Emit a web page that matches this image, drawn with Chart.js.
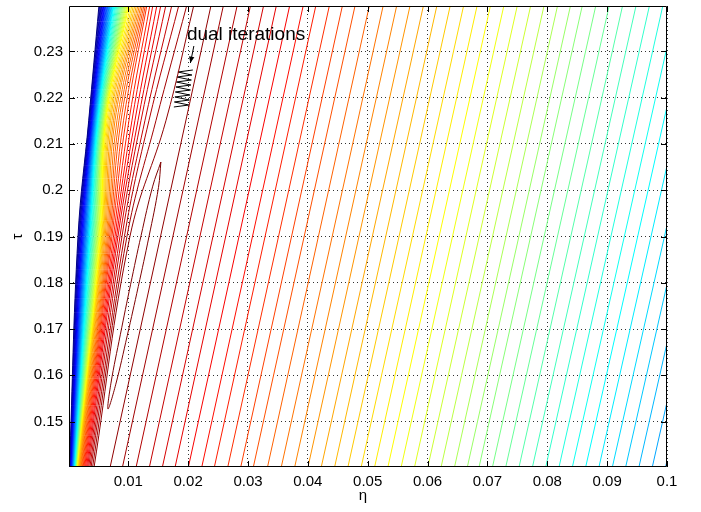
<!DOCTYPE html>
<html>
<head>
<meta charset="utf-8">
<script src="https://cdn.jsdelivr.net/npm/chart.js@4.4.1/dist/chart.umd.min.js"></script>
<style>
  html, body { margin: 0; padding: 0; background: #fff; }
</style>
</head>
<body>
<canvas id="contourChart" width="701" height="512"></canvas>
<script>
// tick labels
const xTicks = [0.01, 0.02, 0.03, 0.04, 0.05, 0.06, 0.07, 0.08, 0.09, 0.1]
const yTicks = [0.15, 0.16, 0.17, 0.18, 0.19, 0.2, 0.21, 0.22, 0.23]

// number of contour levels (0 = closed loop around the maximum)
const nLevels = 60

// right-hand branches (levels 1..43): eta at tau = 0.14 and at tau = 0.24
const rightTau = [0.14, 0.24]
const rightBottomEta = [0.00694, 0.00900, 0.01128, 0.01350, 0.01567, 0.01779, 0.02001, 0.02225, 0.02435, 0.02659, 0.02876, 0.03086, 0.03323, 0.03553, 0.03777, 0.03999, 0.04221, 0.04444, 0.04666, 0.04888, 0.05112, 0.05334, 0.05556, 0.05779, 0.06001, 0.06223, 0.06447, 0.06661, 0.06857, 0.07081, 0.07303, 0.07525, 0.07749, 0.07971, 0.08193, 0.08416, 0.08638, 0.08860, 0.09084, 0.09306, 0.09528, 0.09751, 0.09973]
const rightTopEta = [0.02384, 0.02591, 0.02821, 0.03044, 0.03263, 0.03476, 0.03699, 0.03925, 0.04136, 0.04362, 0.04580, 0.04791, 0.05030, 0.05261, 0.05487, 0.05710, 0.05933, 0.06158, 0.06381, 0.06605, 0.06830, 0.07053, 0.07277, 0.07501, 0.07725, 0.07948, 0.08174, 0.08390, 0.08587, 0.08813, 0.09037, 0.09260, 0.09485, 0.09709, 0.09933, 0.10158, 0.10382, 0.10606, 0.10831, 0.11055, 0.11279, 0.11504, 0.11728]

// left-hand branches forming the steep wall (levels 1..59), eta at four tau rows
const wallTau = [0.24, 0.215, 0.19, 0.14]
const wallRowA = [0.02096, 0.01979, 0.01846, 0.01729, 0.01629, 0.01545, 0.01479, 0.01412, 0.01362, 0.01312, 0.01287, 0.01262, 0.01237, 0.01212, 0.01187, 0.01162, 0.01137, 0.01111, 0.01086, 0.01061, 0.01036, 0.01011, 0.00995, 0.00978, 0.00961, 0.00945, 0.00928, 0.00911, 0.00895, 0.00878, 0.00861, 0.00844, 0.00828, 0.00811, 0.00794, 0.00778, 0.00761, 0.00749, 0.00738, 0.00728, 0.00716, 0.00704, 0.00693, 0.00681, 0.00671, 0.00659, 0.00648, 0.00636, 0.00624, 0.00612, 0.00602, 0.00591, 0.00579, 0.00567, 0.00556, 0.00546, 0.00534, 0.00522, 0.00511]
const wallRowB = [0.01629, 0.01462, 0.01345, 0.01278, 0.01212, 0.01162, 0.01111, 0.01061, 0.01011, 0.00961, 0.00920, 0.00878, 0.00844, 0.00811, 0.00778, 0.00753, 0.00728, 0.00703, 0.00683, 0.00663, 0.00644, 0.00628, 0.00619, 0.00609, 0.00601, 0.00592, 0.00582, 0.00574, 0.00566, 0.00556, 0.00547, 0.00539, 0.00529, 0.00521, 0.00512, 0.00502, 0.00494, 0.00487, 0.00481, 0.00472, 0.00466, 0.00459, 0.00452, 0.00444, 0.00437, 0.00431, 0.00424, 0.00416, 0.00409, 0.00402, 0.00396, 0.00389, 0.00381, 0.00374, 0.00367, 0.00360, 0.00352, 0.00345, 0.00339]
const wallRowC = [0.01028, 0.00978, 0.00936, 0.00895, 0.00861, 0.00828, 0.00803, 0.00778, 0.00753, 0.00728, 0.00708, 0.00688, 0.00669, 0.00651, 0.00633, 0.00614, 0.00597, 0.00582, 0.00569, 0.00557, 0.00546, 0.00536, 0.00524, 0.00512, 0.00501, 0.00489, 0.00477, 0.00466, 0.00454, 0.00442, 0.00431, 0.00419, 0.00407, 0.00396, 0.00384, 0.00372, 0.00360, 0.00352, 0.00342, 0.00334, 0.00324, 0.00315, 0.00305, 0.00297, 0.00287, 0.00279, 0.00269, 0.00260, 0.00252, 0.00242, 0.00234, 0.00224, 0.00215, 0.00205, 0.00197, 0.00187, 0.00179, 0.00169, 0.00160]
const wallRowD = [0.00427, 0.00402, 0.00377, 0.00357, 0.00337, 0.00319, 0.00302, 0.00285, 0.00270, 0.00257, 0.00244, 0.00232, 0.00220, 0.00210, 0.00200, 0.00192, 0.00184, 0.00177, 0.00170, 0.00165, 0.00160, 0.00155, 0.00152, 0.00149, 0.00147, 0.00144, 0.00140, 0.00137, 0.00134, 0.00132, 0.00129, 0.00125, 0.00122, 0.00119, 0.00117, 0.00113, 0.00110, 0.00106, 0.00102, 0.00098, 0.00093, 0.00089, 0.00085, 0.00081, 0.00077, 0.00073, 0.00068, 0.00064, 0.00060, 0.00056, 0.00052, 0.00048, 0.00043, 0.00039, 0.00035, 0.00031, 0.00027, 0.00023, 0.00018]

// closed loop around the maximum (level 0)
const loopEta = [0.01545, 0.01505, 0.01345, 0.01168, 0.00983, 0.00789, 0.00661, 0.00709, 0.00869, 0.01038, 0.01215, 0.01409, 0.01545]
const loopTau = [0.20609, 0.20062, 0.18991, 0.17923, 0.16858, 0.15795, 0.15272, 0.15816, 0.16888, 0.17958, 0.19025, 0.20088, 0.20609]

// dual iterations (black zigzag)
const dualEta = [0.02079, 0.01829, 0.02063, 0.01812, 0.02054, 0.01804, 0.02046, 0.01796, 0.02038, 0.01787, 0.02029, 0.01779, 0.02021, 0.01771, 0.02013, 0.01762]
const dualTau = [0.22597, 0.22554, 0.22489, 0.22446, 0.22381, 0.22338, 0.22273, 0.22230, 0.22165, 0.22122, 0.22057, 0.22014, 0.21949, 0.21906, 0.21841, 0.21798]

// annotation anchor (data units)
const noteText = "dual iterations"
const notePos = { x: 0.01980, y: 0.23245 }
const arrowFrom = { x: 0.02096, y: 0.23116 }
const arrowTo = { x: 0.02038, y: 0.22748 }

const fontFamily = "'Liberation Sans', Arial, Helvetica, sans-serif"

function jet(v) {
  const c = (t) => Math.round(255 * Math.max(0, Math.min(1, 1.5 - Math.abs(4 * v - t))))
  return "rgb(" + c(3) + "," + c(2) + "," + c(1) + ")"
}

function levelColor(level) {
  return jet(1 - level / (nLevels - 1))
}

const datasets = []

function addLine(etas, taus, color, tension) {
  datasets.push({
    data: etas.map((x, j) => ({ x: x, y: taus[j] })),
    showLine: true,
    borderColor: color,
    borderWidth: 1,
    pointRadius: 0,
    tension: tension,
    fill: false,
  })
}

// wall (left branches)
for (let j = 0; j < wallRowA.length; j++) {
  addLine([wallRowA[j], wallRowB[j], wallRowC[j], wallRowD[j]], wallTau, levelColor(j + 1), 0.4)
}
// right branches
for (let k = 0; k < rightBottomEta.length; k++) {
  addLine([rightBottomEta[k], rightTopEta[k]], rightTau, levelColor(k + 1), 0)
}
addLine(loopEta, loopTau, levelColor(0), 0.4)
addLine(dualEta, dualTau, "#000", 0)

const framePlugin = {
  id: "frame",
  afterDraw(chart) {
    const { ctx, chartArea: a, scales } = chart
    const xs = scales.x
    const ys = scales.y
    ctx.save()
    ctx.strokeStyle = "#000"
    ctx.lineWidth = 1
    ctx.beginPath()
    ctx.rect(a.left + 0.5, a.top + 0.5, a.right - a.left - 1, a.bottom - a.top - 1)
    ctx.stroke()
    // inner ticks on all four sides
    ctx.beginPath()
    xTicks.forEach((v) => {
      const px = Math.round(xs.getPixelForValue(v)) + 0.5
      ctx.moveTo(px, a.bottom)
      ctx.lineTo(px, a.bottom - 6)
      ctx.moveTo(px, a.top)
      ctx.lineTo(px, a.top + 6)
    })
    yTicks.forEach((v) => {
      const py = Math.round(ys.getPixelForValue(v)) + 0.5
      ctx.moveTo(a.left, py)
      ctx.lineTo(a.left + 6, py)
      ctx.moveTo(a.right, py)
      ctx.lineTo(a.right - 6, py)
    })
    ctx.stroke()

    // annotation
    ctx.fillStyle = "#000"
    ctx.font = "19px " + fontFamily
    ctx.textAlign = "left"
    ctx.textBaseline = "alphabetic"
    ctx.fillText(noteText, xs.getPixelForValue(notePos.x), ys.getPixelForValue(notePos.y))
    const x1 = xs.getPixelForValue(arrowFrom.x), y1 = ys.getPixelForValue(arrowFrom.y)
    const x2 = xs.getPixelForValue(arrowTo.x), y2 = ys.getPixelForValue(arrowTo.y)
    const ang = Math.atan2(y2 - y1, x2 - x1)
    ctx.beginPath()
    ctx.moveTo(x1, y1)
    ctx.lineTo(x2, y2)
    ctx.stroke()
    ctx.beginPath()
    ctx.moveTo(x2, y2)
    ctx.lineTo(x2 - 7 * Math.cos(ang - 0.4), y2 - 7 * Math.sin(ang - 0.4))
    ctx.lineTo(x2 - 7 * Math.cos(ang + 0.4), y2 - 7 * Math.sin(ang + 0.4))
    ctx.closePath()
    ctx.fill()

    // axis titles
    ctx.font = "15px " + fontFamily
    ctx.textAlign = "center"
    ctx.textBaseline = "middle"
    ctx.fillText("η", (a.left + a.right) / 2 - 5, 496)
    ctx.translate(18, (a.top + a.bottom) / 2)
    ctx.rotate(-Math.PI / 2)
    ctx.fillText("τ", 0, 0)
    ctx.restore()
  },
}

const tickFont = { family: fontFamily, size: 15 }
const fmt = (v) => String(+v.toFixed(2))

new Chart(document.getElementById("contourChart").getContext("2d"), {
  type: "scatter",
  data: { datasets: datasets },
  options: {
    responsive: false,
    animation: false,
    events: [],
    layout: { padding: { left: 0, right: 34, top: 6, bottom: 0 } },
    plugins: { legend: { display: false }, tooltip: { enabled: false } },
    scales: {
      x: {
        type: "linear",
        min: 0.0001,
        max: 0.1,
        afterBuildTicks: (s) => { s.ticks = xTicks.map((v) => ({ value: v })) },
        afterFit: (s) => { s.height = 45; s.paddingLeft = 0; s.paddingRight = 0 },
        ticks: { callback: fmt, font: tickFont, color: "#000", padding: 6, maxRotation: 0, autoSkip: false },
        grid: { color: "rgba(0,0,0,0.8)", lineWidth: 1, drawTicks: false },
        border: { display: false, dash: [1, 3] },
      },
      y: {
        type: "linear",
        min: 0.1402,
        max: 0.2398,
        afterBuildTicks: (s) => { s.ticks = yTicks.map((v) => ({ value: v })) },
        afterFit: (s) => { s.width = 69; s.paddingTop = 0; s.paddingBottom = 0 },
        ticks: { callback: fmt, font: tickFont, color: "#000", padding: 6, autoSkip: false },
        grid: { color: "rgba(0,0,0,0.8)", lineWidth: 1, drawTicks: false },
        border: { display: false, dash: [1, 3] },
      },
    },
  },
  plugins: [framePlugin],
})
</script>
</body>
</html>
